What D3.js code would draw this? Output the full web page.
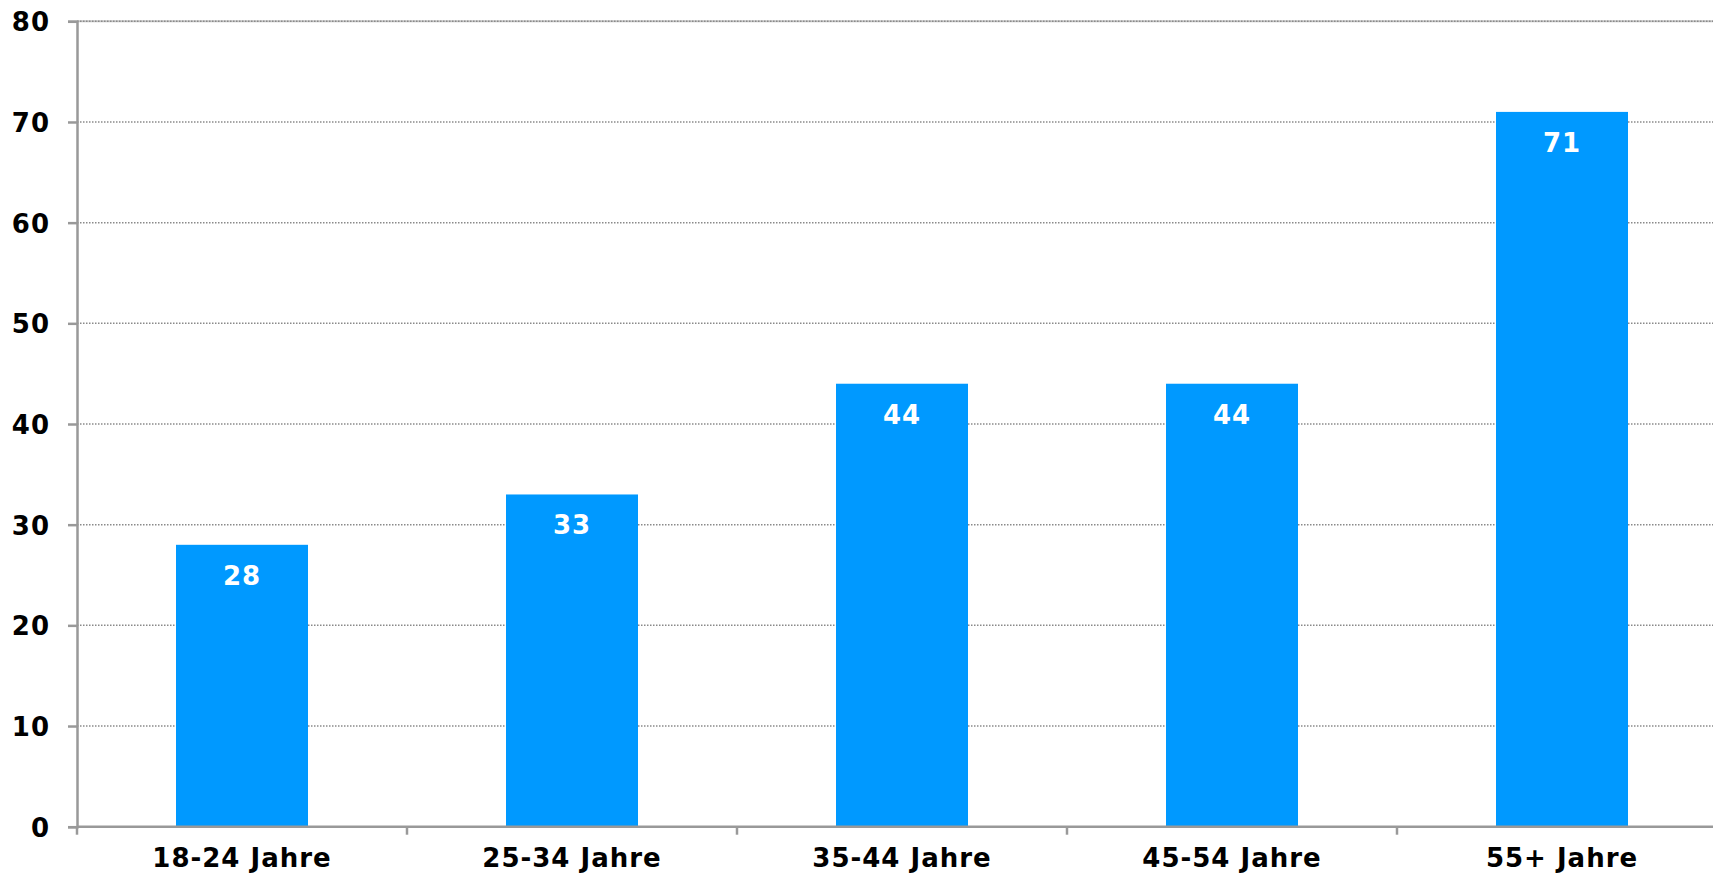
<!DOCTYPE html>
<html><head><meta charset="utf-8">
<script src="https://cdn.jsdelivr.net/npm/d3@7"></script>
<style>body{margin:0;background:#fff}svg{display:block}text{font-family:"DejaVu Sans",Verdana,sans-serif;font-weight:bold;letter-spacing:1px}</style>
</head><body>
<script>
const categories = ["18-24 Jahre","25-34 Jahre","35-44 Jahre","45-54 Jahre","55+ Jahre"];
const values = [28,33,44,44,71];
const yTicks = [0,10,20,30,40,50,60,70,80];

(function(){
const W=1713,H=874;
const mLeft=77, mTop=21.3, mBottom=826.7, band=330;
const svg=d3.select("body").append("svg").attr("width",W).attr("height",H);
const x=d3.scaleBand().domain(categories).range([mLeft,mLeft+band*categories.length]).paddingInner(0.6).paddingOuter(0.3);
const y=d3.scaleLinear().domain([0,80]).range([mBottom,mTop]);

// top solid line
svg.append("line").attr("x1",mLeft).attr("x2",W).attr("y1",y(80)).attr("y2",y(80)).attr("stroke","#c4c4c4").attr("stroke-width",2);
// gridlines
svg.append("g").selectAll("line").data(yTicks.filter(d=>d>0)).join("line")
  .attr("x1",mLeft).attr("x2",W).attr("y1",d=>y(d)).attr("y2",d=>y(d))
  .attr("stroke","#8a8a8a").attr("stroke-width",1.5).attr("stroke-dasharray","1.5,1.5");

// bars
svg.append("g").selectAll("rect").data(values).join("rect")
  .attr("x",(d,i)=>x(categories[i])).attr("width",x.bandwidth())
  .attr("y",d=>y(d)).attr("height",d=>y(0)-y(d)).attr("fill","#0099ff");

// value labels
svg.append("g").selectAll("text").data(values).join("text")
  .attr("x",(d,i)=>x(categories[i])+x.bandwidth()/2).attr("y",d=>y(d)+40)
  .attr("text-anchor","middle").attr("fill","#fff").attr("font-size",26).text(d=>d);

// y axis
const ya=svg.append("g").attr("transform",`translate(${mLeft},0)`)
  .call(d3.axisLeft(y).tickValues(yTicks).tickSize(9).tickPadding(18));
ya.select(".domain").attr("stroke","#999").attr("stroke-width",2.5);
ya.selectAll(".tick line").attr("stroke","#999").attr("stroke-width",2.5);
ya.selectAll(".tick text").attr("font-size",26).attr("fill","#000").attr("font-family","DejaVu Sans").attr("font-weight","bold").attr("dy","0.36em");

// x axis
const xt=d3.scaleLinear().domain([0,5]).range([mLeft,mLeft+band*5]);
const xa=svg.append("g").attr("transform",`translate(0,${mBottom})`);
xa.append("line").attr("x1",mLeft).attr("x2",W).attr("stroke","#999").attr("stroke-width",2.5);
xa.selectAll("line.tk").data([0,1,2,3,4]).join("line").attr("class","tk")
  .attr("x1",d=>xt(d)).attr("x2",d=>xt(d)).attr("y1",0).attr("y2",8).attr("stroke","#999").attr("stroke-width",2.5);
xa.selectAll("text.lbl").data(categories).join("text").attr("class","lbl")
  .attr("x",d=>x(d)+x.bandwidth()/2).attr("y",40).attr("text-anchor","middle")
  .attr("font-size",26).attr("fill","#000").text(d=>d);
})();
</script>
</body></html>
